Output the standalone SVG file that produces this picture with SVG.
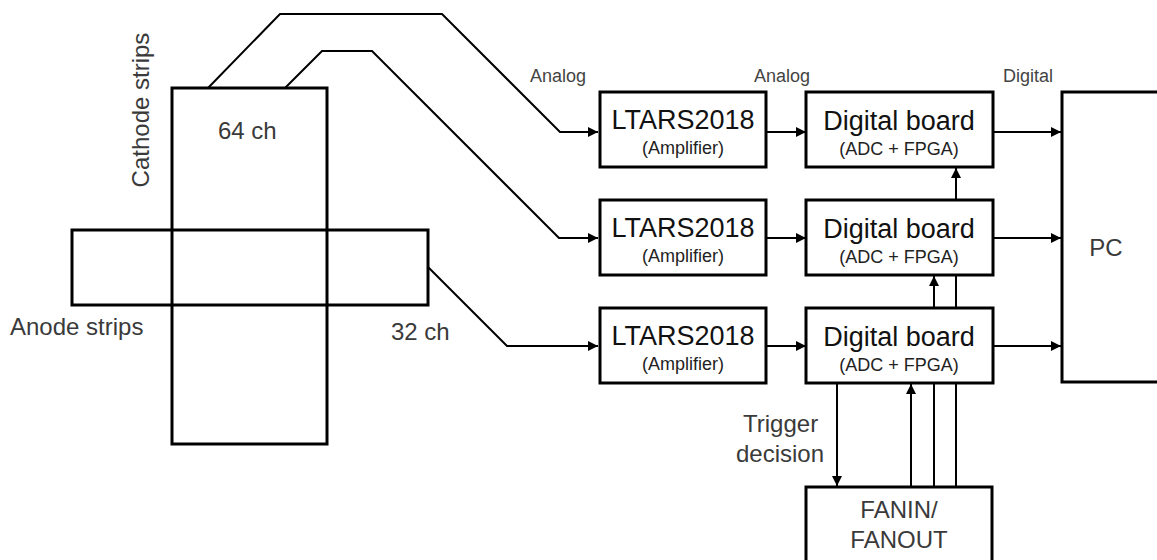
<svg xmlns="http://www.w3.org/2000/svg" width="1157" height="560" viewBox="0 0 1157 560">
  <defs>
    <marker id="arrow" viewBox="0 0 10 10" refX="10" refY="5" markerWidth="10" markerHeight="10" markerUnits="userSpaceOnUse" orient="auto">
      <path d="M0,0 L10,5 L0,10 z" fill="#000"/>
    </marker>
    <style>
      .box { fill: #fff; stroke: #000; stroke-width: 3; }
      .strip { fill: none; stroke: #000; stroke-width: 3; }
      .wire { fill: none; stroke: #000; stroke-width: 2; }
      .arr { marker-end: url(#arrow); }
      text { font-family: "Liberation Sans", Arial, sans-serif; }
      .lbl { fill: #3a3a3a; font-size: 24px; }
      .sig { fill: #444; font-size: 18px; }
      .title { fill: #111; font-size: 27px; text-anchor: middle; }
      .sub { fill: #222; font-size: 18px; text-anchor: middle; }
      .mid { text-anchor: middle; }
    </style>
  </defs>

  <rect width="1157" height="560" fill="#fff"/>

  <!-- detector strips -->
  <g id="detector">
    <rect class="strip" x="172" y="88" width="155" height="356"/>
    <rect class="strip" x="72" y="230" width="356" height="75"/>
    <text class="lbl" transform="translate(149,110) rotate(-90)" text-anchor="middle">Cathode strips</text>
    <text class="lbl" x="10" y="335">Anode strips</text>
    <text class="lbl" x="218" y="139">64 ch</text>
    <text class="lbl" x="391" y="340">32 ch</text>
  </g>

  <!-- connectors (drawn under the boxes) -->
  <g id="connectors">
    <path class="wire arr" d="M208,88 L280,14 L442,14 L560,132 L598,132"/>
    <path class="wire arr" d="M285,88 L322,51 L372,51 L559,238 L598,238"/>
    <path class="wire arr" d="M428,267 L507,346 L598,346"/>

    <path class="wire arr" d="M766,132 L806,132"/>
    <path class="wire arr" d="M766,238 L806,238"/>
    <path class="wire arr" d="M766,346 L806,346"/>

    <path class="wire arr" d="M993,132 L1061,132"/>
    <path class="wire arr" d="M993,238 L1061,238"/>
    <path class="wire arr" d="M993,346 L1061,346"/>

    <path class="wire arr" d="M837,383 L837,486"/>
    <path class="wire arr" d="M911,487 L911,384"/>
    <path class="wire" d="M934,487 L934,383"/>
    <path class="wire arr" d="M934,308 L934,276"/>
    <path class="wire" d="M956,487 L956,383"/>
    <path class="wire" d="M956,308 L956,275"/>
    <path class="wire arr" d="M956,200 L956,168"/>
  </g>

  <!-- signal labels -->
  <g id="signal-labels">
    <text class="sig" x="530" y="82">Analog</text>
    <text class="sig" x="754" y="82">Analog</text>
    <text class="sig" x="1003" y="82">Digital</text>
    <text class="lbl" x="743" y="432" font-size="23">Trigger</text>
    <text class="lbl" x="736" y="462" font-size="23">decision</text>
  </g>

  <!-- amplifiers -->
  <g id="ltars-1">
    <rect class="box" x="600" y="92" width="166" height="75"/>
    <text class="title" x="683" y="129">LTARS2018</text>
    <text class="sub" x="683" y="154">(Amplifier)</text>
  </g>
  <g id="ltars-2">
    <rect class="box" x="600" y="200" width="166" height="75"/>
    <text class="title" x="683" y="237">LTARS2018</text>
    <text class="sub" x="683" y="262">(Amplifier)</text>
  </g>
  <g id="ltars-3">
    <rect class="box" x="600" y="308" width="166" height="75"/>
    <text class="title" x="683" y="345">LTARS2018</text>
    <text class="sub" x="683" y="370">(Amplifier)</text>
  </g>

  <!-- digital boards -->
  <g id="digital-1">
    <rect class="box" x="806" y="92" width="187" height="75"/>
    <text class="title" x="899" y="130" font-size="28">Digital board</text>
    <text class="sub" x="899" y="155">(ADC + FPGA)</text>
  </g>
  <g id="digital-2">
    <rect class="box" x="806" y="200" width="187" height="75"/>
    <text class="title" x="899" y="238" font-size="28">Digital board</text>
    <text class="sub" x="899" y="263">(ADC + FPGA)</text>
  </g>
  <g id="digital-3">
    <rect class="box" x="806" y="308" width="187" height="75"/>
    <text class="title" x="899" y="346" font-size="28">Digital board</text>
    <text class="sub" x="899" y="371">(ADC + FPGA)</text>
  </g>

  <!-- PC -->
  <g id="pc">
    <rect class="box" x="1062" y="92" width="110" height="290"/>
    <text class="lbl mid" x="1106" y="256" fill="#111">PC</text>
  </g>

  <!-- FANIN/FANOUT -->
  <g id="fanin-fanout">
    <rect class="box" x="806" y="487" width="186" height="90"/>
    <text class="lbl mid" x="899" y="518" fill="#111">FANIN/</text>
    <text class="lbl mid" x="899" y="548" fill="#111">FANOUT</text>
  </g>
</svg>
